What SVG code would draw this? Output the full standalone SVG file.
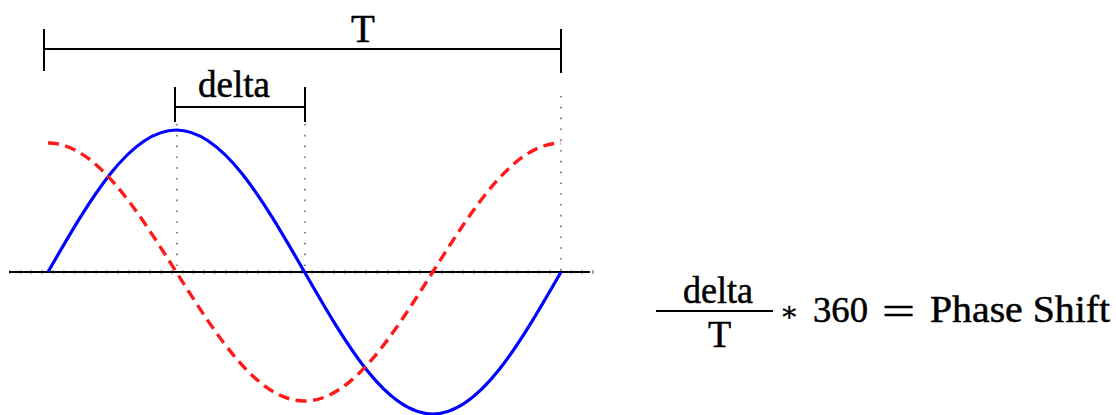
<svg xmlns="http://www.w3.org/2000/svg" width="1116" height="415" viewBox="0 0 1116 415">
  <style>
    .txt { font-family: "Liberation Serif", "DejaVu Serif", serif; fill: #000; stroke: #000; stroke-width: 0.5; }
    .bar { stroke: #000; stroke-width: 2; fill: none; }
    .dots { stroke: #8a8a8a; stroke-width: 2; stroke-dasharray: 1.6 9.2; fill: none; }
    .blue { stroke: #0000ff; stroke-width: 3.2; fill: none; }
    .red { stroke: #ff1a1a; stroke-width: 3.4; fill: none; stroke-dasharray: 11 6.5; }
  </style>
  <rect width="1116" height="415" fill="#fff"/>

  <g id="guides">
    <line class="dots" x1="9" y1="272" x2="594" y2="272" style="stroke-width:3.5"/>
    <line class="dots" x1="177" y1="124" x2="177" y2="272"/>
    <line class="dots" x1="305" y1="124" x2="305" y2="272"/>
    <line class="dots" x1="561" y1="96" x2="561" y2="272"/>
  </g>

  <g id="axis">
    <line class="bar" x1="9" y1="272" x2="590" y2="272"/>
  </g>

  <g id="waves">
    <path id="blue-wave" class="blue" d="M48,272 C89.82,199.25 129.84,130 176.25,130 C222.66,130 262.68,199.25 304.5,272 C346.32,344.75 386.34,414 432.75,414 C479.16,414 519.18,344.75 561,272"/>
    <path id="red-wave" class="red" d="M48,143 C94.41,143 134.43,205.91 176.25,272 C218.07,338.09 258.09,401 304.5,401 C350.91,401 390.93,338.09 432.75,272 C474.57,205.91 514.59,143 561,143"/>
  </g>

  <g id="period-bracket">
    <line class="bar" x1="44" y1="49" x2="561" y2="49"/>
    <line class="bar" x1="44" y1="29" x2="44" y2="71"/>
    <line class="bar" x1="561" y1="29" x2="561" y2="73"/>
    <text class="txt" x="363" y="42" font-size="39" text-anchor="middle">T</text>
  </g>

  <g id="delta-bracket">
    <line class="bar" x1="175" y1="107" x2="305" y2="107"/>
    <line class="bar" x1="175" y1="87" x2="175" y2="122"/>
    <line class="bar" x1="305" y1="87" x2="305" y2="122"/>
    <text class="txt" x="234" y="97" font-size="37" text-anchor="middle" textLength="72" lengthAdjust="spacingAndGlyphs">delta</text>
  </g>

  <g id="formula">
    <text class="txt" x="718" y="303" font-size="37" text-anchor="middle" textLength="70" lengthAdjust="spacingAndGlyphs">delta</text>
    <line class="bar" x1="656" y1="311" x2="773" y2="311"/>
    <text class="txt" x="719.5" y="347" font-size="38" text-anchor="middle">T</text>
    <text class="txt" x="789" y="321" font-size="28" text-anchor="middle" style="stroke-width:0.3">∗</text>
    <text class="txt" x="813" y="322" font-size="36" textLength="55" lengthAdjust="spacingAndGlyphs">360</text>
    <text class="txt" x="882" y="324" font-size="38" textLength="33" lengthAdjust="spacingAndGlyphs">=</text>
    <text class="txt" x="930" y="322" font-size="38" textLength="180" lengthAdjust="spacingAndGlyphs">Phase Shift</text>
  </g>
</svg>
